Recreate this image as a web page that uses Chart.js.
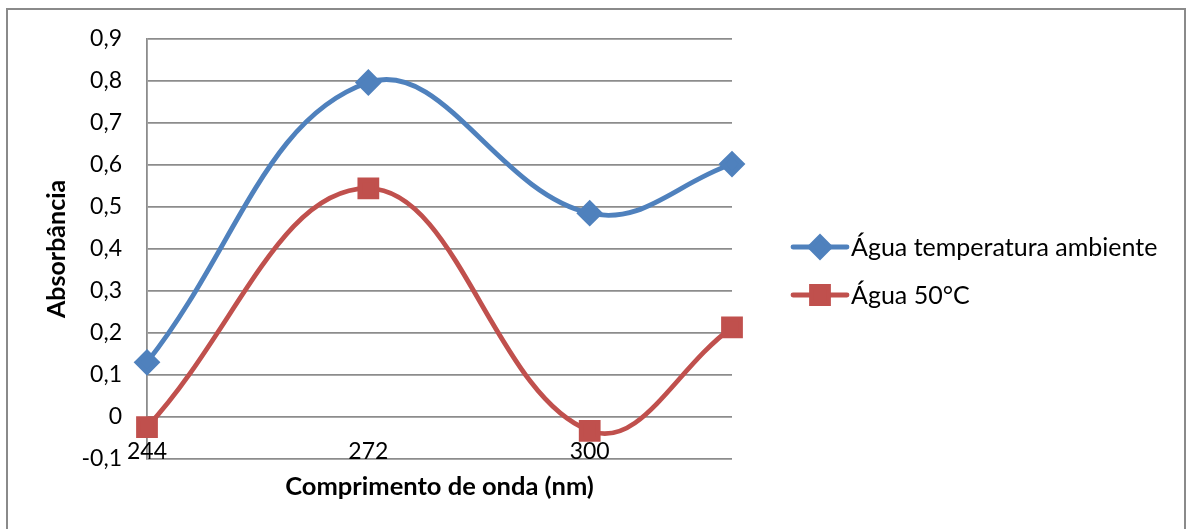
<!DOCTYPE html>
<html>
<head>
<meta charset="utf-8">
<script src="https://cdn.jsdelivr.net/npm/chart.js@4/dist/chart.umd.min.js"></script>
<style>
  html, body { margin: 0; padding: 0; background: #ffffff; }
  #wrap { position: relative; width: 1186px; height: 529px; }
</style>
</head>
<body>
<div id="wrap"><canvas id="chart" width="1186" height="529"></canvas></div>
<script>
// Wavelengths (nm) and absorbance readings for each water sample
const wavelengths = [244, 272, 300, 318];
const ambientAbs = [0.13, 0.796, 0.485, 0.602];
const hotAbs = [-0.024, 0.544, -0.033, 0.213];

// Axis tick labels
const xTickValues = [244, 272, 300];
const yMin = -0.1;
const yMax = 0.9;
const yStep = 0.1;

const seriesNames = ['Água temperatura ambiente', 'Água 50°C'];
const xTitle = 'Comprimento de onda (nm)';
const yTitle = 'Absorbância';

const FONT = 'Lato';
const BLUE = '#4F81BD';
const RED = '#C0504D';
const GRID = '#8c8c8c';

function toPoints(values) {
  return wavelengths.map((x, i) => ({ x: x, y: values[i] }));
}

function fmtComma(v) {
  if (Math.abs(v) < 1e-9) return '0';
  return v.toFixed(1).replace('.', ',');
}

// Frame around the whole chart
const framePlugin = {
  id: 'frame',
  beforeDraw(chart) {
    const ctx = chart.ctx;
    ctx.save();
    ctx.strokeStyle = '#8a8a8a';
    ctx.lineWidth = 2;
    ctx.strokeRect(7, 9, 1178, 540);
    ctx.restore();
  }
};

// Wavelength labels sit on the lowest gridline, inside the plot
const xLabelPlugin = {
  id: 'xLabels',
  afterDraw(chart) {
    const ctx = chart.ctx;
    const xs = chart.scales.x;
    const base = chart.chartArea.bottom;
    ctx.save();
    ctx.fillStyle = '#000000';
    ctx.font = '23px ' + FONT;
    ctx.textAlign = 'center';
    ctx.textBaseline = 'alphabetic';
    xs.ticks.forEach(t => {
      ctx.fillText(String(t.value), xs.getPixelForValue(t.value), base);
    });
    ctx.restore();
  }
};

// Legend with line + marker swatches, placed right of the plot
const legendPlugin = {
  id: 'lineLegend',
  afterDraw(chart) {
    const ctx = chart.ctx;
    const rows = [247, 295];
    ctx.save();
    chart.data.datasets.forEach((ds, i) => {
      const y = rows[i];
      ctx.strokeStyle = ds.borderColor;
      ctx.lineWidth = ds.borderWidth;
      ctx.lineCap = 'round';
      ctx.beginPath();
      ctx.moveTo(793, y);
      ctx.lineTo(847, y);
      ctx.stroke();
      ctx.fillStyle = ds.pointBackgroundColor;
      ctx.strokeStyle = ds.pointBorderColor;
      Chart.helpers.drawPoint(ctx, {
        pointStyle: ds.pointStyle,
        radius: ds.pointRadius,
        rotation: 0,
        borderWidth: 1
      }, 820, y);
      ctx.fillStyle = '#000000';
      ctx.font = '25px ' + FONT;
      ctx.textAlign = 'left';
      ctx.textBaseline = 'middle';
      ctx.fillText(ds.label, 851, y + 1);
    });
    ctx.restore();
  }
};

new Chart(document.getElementById('chart'), {
  type: 'line',
  data: {
    datasets: [
      {
        label: seriesNames[0],
        data: toPoints(ambientAbs),
        borderColor: BLUE,
        backgroundColor: BLUE,
        pointBackgroundColor: BLUE,
        pointBorderColor: BLUE,
        borderWidth: 4.8,
        pointStyle: 'rectRot',
        pointRadius: 10,
        tension: 0.4,
        clip: false
      },
      {
        label: seriesNames[1],
        data: toPoints(hotAbs),
        borderColor: RED,
        backgroundColor: RED,
        pointBackgroundColor: RED,
        pointBorderColor: RED,
        borderWidth: 4.8,
        pointStyle: 'rect',
        pointRadius: 12,
        tension: 0.4,
        clip: false
      }
    ]
  },
  options: {
    responsive: false,
    animation: false,
    layout: { padding: { left: 8, top: 38.5, right: 454, bottom: 0 } },
    plugins: {
      legend: { display: false },
      tooltip: { enabled: false }
    },
    scales: {
      x: {
        type: 'linear',
        min: wavelengths[0],
        max: wavelengths[wavelengths.length - 1],
        afterBuildTicks(scale) {
          scale.ticks = xTickValues.map(v => ({ value: v }));
        },
        afterFit(scale) { scale.height = 70; },
        grid: { display: false, drawTicks: false },
        border: { display: false },
        ticks: { display: false },
        title: {
          display: true,
          text: xTitle,
          color: '#000000',
          font: { family: FONT, size: 25.5, weight: 'bold' },
          padding: 27
        }
      },
      y: {
        min: yMin,
        max: yMax,
        afterFit(scale) { scale.width = 139; },
        grid: { color: GRID, lineWidth: 1.8, drawTicks: false },
        border: { display: true, color: GRID, width: 1.8 },
        ticks: {
          stepSize: yStep,
          padding: 25,
          color: '#000000',
          font: { family: FONT, size: 23 },
          callback: v => fmtComma(v)
        },
        title: {
          display: true,
          text: yTitle,
          color: '#000000',
          font: { family: FONT, size: 25, weight: 'bold' },
          padding: 34
        }
      }
    }
  },
  plugins: [framePlugin, xLabelPlugin, legendPlugin]
});
</script>
</body>
</html>
